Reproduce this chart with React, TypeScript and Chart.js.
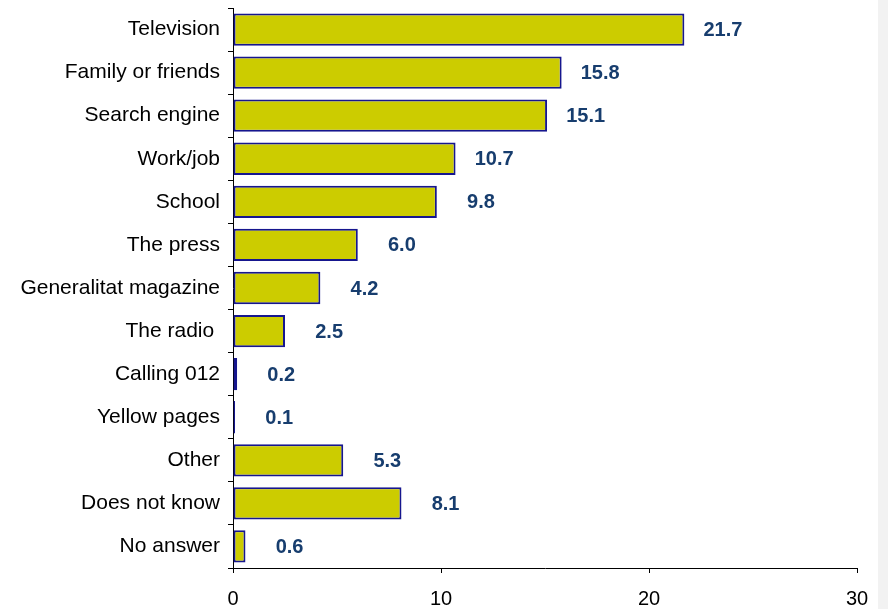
import React, { useEffect, useRef } from 'react';
import { Chart, registerables } from 'chart.js';

Chart.register(...registerables);

const categories = [
  'Television',
  'Family or friends',
  'Search engine',
  'Work/job',
  'School',
  'The press',
  'Generalitat magazine',
  'The radio ',
  'Calling 012',
  'Yellow pages',
  'Other',
  'Does not know',
  'No answer',
];
const values = [21.7, 15.8, 15.1, 10.7, 9.8, 6.0, 4.2, 2.5, 0.2, 0.1, 5.3, 8.1, 0.6];
const xMin = 0;
const xMax = 30;
const xStep = 10;

const FONT = '"Liberation Sans", Arial, Helvetica, sans-serif';

const valueLabels = {
  id: 'valueLabels',
  afterDatasetsDraw(chart: any) {
    const ctx = chart.ctx;
    const meta = chart.getDatasetMeta(0);
    ctx.save();
    ctx.font = `bold 20px ${FONT}`;
    ctx.fillStyle = '#173D6E';
    ctx.textAlign = 'right';
    ctx.textBaseline = 'middle';
    meta.data.forEach((bar: any, i: number) => {
      ctx.fillText(values[i].toFixed(1), bar.x + 58, bar.y + 1);
    });
    ctx.restore();
  },
};

export default function App() {
  const ref = useRef<HTMLCanvasElement | null>(null);

  useEffect(() => {
    if (!ref.current) return;
    const chart = new Chart(ref.current, {
      type: 'bar',
      data: {
        labels: categories,
        datasets: [
          {
            data: values,
            backgroundColor: '#CCCC00',
            borderColor: '#16168E',
            borderWidth: 2,
            borderSkipped: false,
            categoryPercentage: 1,
            barPercentage: 0.75,
          },
        ],
      },
      options: {
        indexAxis: 'y',
        responsive: false,
        animation: false,
        devicePixelRatio: 1,
        layout: { padding: { top: 8, right: 31, left: 0, bottom: 0 } },
        plugins: {
          legend: { display: false },
          tooltip: { enabled: false },
        },
        scales: {
          x: {
            min: xMin,
            max: xMax,
            ticks: {
              stepSize: xStep,
              color: '#000',
              font: { family: FONT, size: 20 },
              padding: 14,
              maxRotation: 0,
            },
            grid: {
              drawOnChartArea: false,
              drawTicks: true,
              tickLength: 5,
              color: '#000',
            },
            border: { color: '#000', width: 1 },
            afterFit: (s: any) => {
              s.height = 41;
              s.paddingLeft = 0;
              s.paddingRight = 0;
            },
          },
          y: {
            ticks: {
              color: '#000',
              font: { family: FONT, size: 21 },
              padding: 8,
              autoSkip: false,
            },
            grid: {
              drawOnChartArea: false,
              drawTicks: true,
              tickLength: 5,
              color: '#000',
              offset: true,
            },
            border: { color: '#000', width: 1 },
            afterFit: (s: any) => {
              s.width = 233;
              s.paddingTop = 0;
              s.paddingBottom = 0;
            },
          },
        },
      },
      plugins: [valueLabels],
    } as any);
    return () => chart.destroy();
  }, []);

  return (
    <div style={{ position: 'fixed', left: 0, top: 0, width: 888, height: 609, background: '#fff' }}>
      <div style={{ position: 'absolute', left: 878, top: 0, width: 10, height: 609, background: '#F2F2F2' }} />
      <canvas ref={ref} width={888} height={609} style={{ position: 'absolute', left: 0, top: 0, width: 888, height: 609 }} />
    </div>
  );
}
